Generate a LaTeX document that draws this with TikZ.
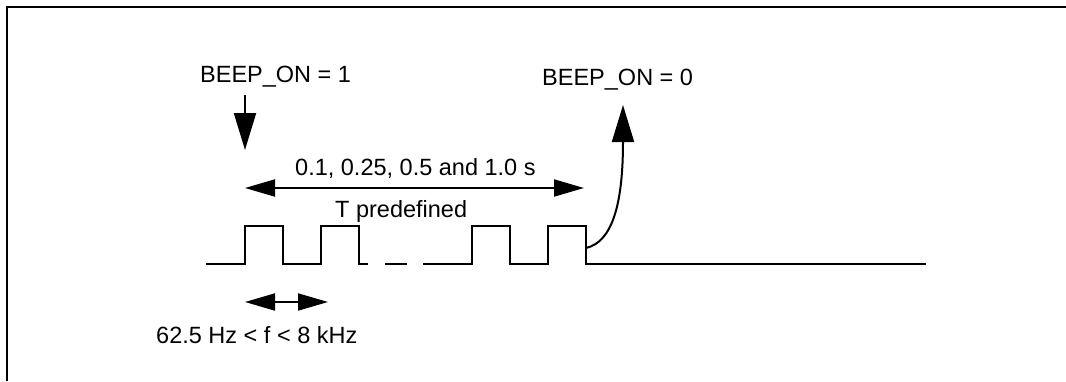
\documentclass[tikz,border=0pt]{standalone}
\usepackage{fontspec}
\setmainfont{Liberation Sans}
\usetikzlibrary{arrows.meta}
\begin{document}
\begin{tikzpicture}[x=1pt,y=-1pt,
  lbl/.style={inner sep=0pt,anchor=base west,font=\fontsize{23.5}{28}\selectfont},
  wave/.style={line width=2pt,line join=miter},
  bigarrow/.style={line width=2pt,-{Triangle[length=37pt,width=22pt]}},
  dimarrow/.style={line width=2pt,{Triangle[length=30pt,width=17pt]}-{Triangle[length=30pt,width=17pt]}}]
\useasboundingbox (0,0) rectangle (1066,381);
\fill[white] (0,0) rectangle (1066,381);
% frame
\draw[line width=2.5pt] (7,381) -- (7,7) -- (1066,7);
% labels
\node[lbl] (on1) at (200,82) {BEEP\_ON = 1};
\node[lbl] (on0) at (542,85) {BEEP\_ON = 0};
\node[lbl] (per) at (295,175) {0.1, 0.25, 0.5 and 1.0 s};
\node[lbl] (tpre) at (335,217) {T predefined};
\node[lbl] (freq) at (156,343) {62.5 Hz < f < 8 kHz};
% waveform
\draw[wave] (206,264) -- (245,264) -- (245,226) -- (283,226) -- (283,264) -- (321,264) -- (321,226) -- (359,226) -- (359,264) -- (368,264);
\draw[wave] (385,264) -- (407,264);
\draw[wave] (423,264) -- (472,264) -- (472,226) -- (510,226) -- (510,264) -- (548,264) -- (548,226) -- (586,226) -- (586,264) -- (926,264);
% arrow coordinates
\coordinate (dA) at (245,95);
\coordinate (dB) at (245,150);
\coordinate (tA) at (245,188);
\coordinate (tB) at (584,188);
\coordinate (fA) at (245,302);
\coordinate (fB) at (328,302);
\coordinate (cA) at (586,248);
\coordinate (cB) at (623,105);
\draw[bigarrow] (dA) -- (dB);
\draw[dimarrow] (tA) -- (tB);
\draw[dimarrow] (fA) -- (fB);
\draw[bigarrow] (cA) .. controls (612,242) and (623,205) .. (cB);
\end{tikzpicture}
\end{document}
